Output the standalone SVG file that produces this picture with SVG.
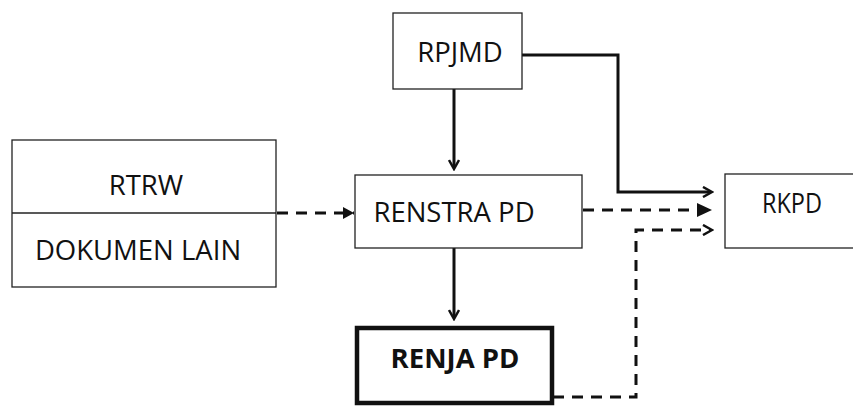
<svg xmlns="http://www.w3.org/2000/svg" width="853" height="406" viewBox="0 0 853 406">
<style>
.box{fill:#fff;stroke:#222;stroke-width:1.3}
.t{font-family:"Open Sans","Liberation Sans",sans-serif;font-size:27.5px;fill:#111;text-anchor:middle}
.solid{fill:none;stroke:#111;stroke-width:3}
.dash{fill:none;stroke:#111;stroke-width:3;stroke-dasharray:11 8}
</style>
<defs>
<marker id="open" markerWidth="12" markerHeight="12" refX="9" refY="6" orient="auto" markerUnits="userSpaceOnUse">
<path d="M1,1 L10,6 L1,11" fill="none" stroke="#111" stroke-width="2.5"/>
</marker>
<marker id="filled" markerWidth="16" markerHeight="16" refX="14" refY="8" orient="auto" markerUnits="userSpaceOnUse">
<path d="M0,1 L15,8 L0,15 Z" fill="#111"/>
</marker>
<marker id="filledS" markerWidth="12" markerHeight="14" refX="11" refY="7" orient="auto" markerUnits="userSpaceOnUse">
<path d="M0,1 L11,7 L0,13 Z" fill="#111"/>
</marker>
</defs>
<g id="connectors">
<path class="solid" d="M454,89 V168" marker-end="url(#open)"/>
<path class="solid" d="M454,248 V318" marker-end="url(#open)"/>
<path class="solid" d="M522,55 H618 V192 H711" marker-end="url(#open)"/>
<path class="dash" d="M277,213 H354" marker-end="url(#filledS)"/>
<path class="dash" d="M583,210 H711" marker-end="url(#filled)"/>
<path class="dash" d="M553,397 H636 V230 H711" marker-end="url(#open)"/>
</g>
<g id="rtrw">
<rect class="box" x="12" y="140" width="264" height="147"/>
<line x1="12" y1="213" x2="276" y2="213" stroke="#222" stroke-width="1.5"/>
<text class="t" x="146" y="195">RTRW</text>
<text class="t" x="138" y="260">DOKUMEN LAIN</text>
</g>
<g id="rpjmd">
<rect class="box" x="393" y="13" width="129" height="76"/>
<text class="t" x="460" y="62">RPJMD</text>
</g>
<g id="renstra">
<rect class="box" x="355" y="175" width="227" height="73"/>
<text class="t" x="454" y="222">RENSTRA PD</text>
</g>
<g id="renja">
<rect x="357" y="328" width="195" height="75" fill="#fff" stroke="#111" stroke-width="4.5"/>
<text class="t" x="455" y="368" font-weight="bold">RENJA PD</text>
</g>
<g id="rkpd">
<rect class="box" x="725" y="174" width="140" height="74"/>
<text class="t" x="792" y="213" textLength="60" lengthAdjust="spacingAndGlyphs">RKPD</text>
</g>
</svg>
